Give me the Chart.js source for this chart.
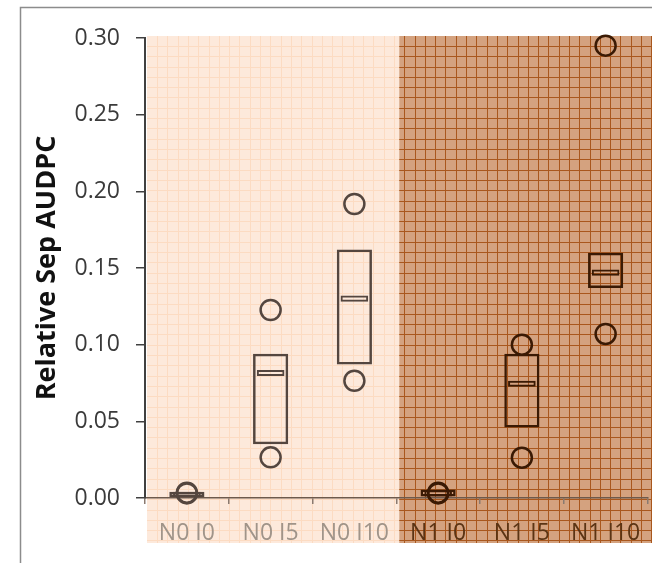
<!DOCTYPE html>
<html>
<head>
<meta charset="utf-8">
<script src="https://cdn.jsdelivr.net/npm/chart.js@4/dist/chart.umd.min.js"></script>
<style>
  html, body { margin: 0; padding: 0; background: #fff; overflow: hidden; }
  #wrap { width: 660px; height: 563px; }
</style>
</head>
<body>
<div id="wrap"><canvas id="boxChart"></canvas></div>
<script>
// Box plot values
const categories = ['N0 I0', 'N0 I5', 'N0 I10', 'N1 I0', 'N1 I5', 'N1 I10'];
const q1 = [0.000, 0.035, 0.087, 0.001, 0.046, 0.137];
const q3 = [0.004, 0.094, 0.162, 0.0055, 0.094, 0.160];
const medians = [0.002, 0.0815, 0.130, 0.003, 0.0745, 0.147];
const lowPoints = [0.003, 0.0265, 0.0765, 0.003, 0.0263, 0.107];
const highPoints = [0.0035, 0.1226, 0.1917, 0.0035, 0.100, 0.295];
const yTicks = [0, 0.05, 0.10, 0.15, 0.20, 0.25, 0.30];

// N0 groups sit on the pale panel, N1 groups on the dark one
function markColor(i) {
    return categories[i].startsWith('N0') ? '#54463f' : '#3a1a04';
}
const markColors = categories.map((c, i) => markColor(i));

// Paper-like grid panels behind the plot plus the outer frame
function drawPanel(ctx, x0, x1, y0, y1, fill, line) {
    ctx.save();
    ctx.fillStyle = fill;
    ctx.fillRect(x0, y0, x1 - x0, y1 - y0);
    ctx.strokeStyle = line;
    ctx.lineWidth = 1;
    const pitch = 10.3;
    ctx.beginPath();
    for (let x = 157; x < x1; x += pitch) {
        if (x <= x0) continue;
        ctx.moveTo(Math.round(x) + 0.5, y0);
        ctx.lineTo(Math.round(x) + 0.5, y1);
    }
    for (let y = 46; y < y1; y += pitch) {
        ctx.moveTo(x0, Math.round(y) + 0.5);
        ctx.lineTo(x1, Math.round(y) + 0.5);
    }
    ctx.stroke();
    ctx.restore();
}

const panelPlugin = {
    id: 'panels',
    beforeDraw(chart) {
        const { ctx, chartArea, scales } = chart;
        const split = scales.x.getPixelForValue(2.5) + 3;
        const top = chartArea.top - 2;
        const bottom = chart.height - 20;
        drawPanel(ctx, chartArea.left + 2, split, top, bottom, '#fde9db', '#fcdbc2');
        drawPanel(ctx, split, chart.width, top, bottom, '#d4a27f', '#a9571d');

        // outer frame
        ctx.save();
        ctx.strokeStyle = '#8c8c8c';
        ctx.lineWidth = 1.5;
        ctx.beginPath();
        ctx.moveTo(20.5, chart.height);
        ctx.lineTo(20.5, 7.5);
        ctx.lineTo(chart.width, 7.5);
        ctx.stroke();
        ctx.restore();
    }
};

const ctx = document.getElementById('boxChart').getContext('2d');
new Chart(ctx, {
    type: 'bar',
    data: {
        labels: categories,
        datasets: [
            {
                label: 'IQR',
                data: categories.map((c, i) => [q1[i], q3[i]]),
                backgroundColor: 'rgba(0,0,0,0)',
                borderColor: markColors,
                borderWidth: 2.5,
                borderSkipped: false,
                grouped: false,
                barPercentage: 0.42,
                categoryPercentage: 1,
                clip: false,
                order: 2
            },
            {
                label: 'Median',
                data: categories.map((c, i) => [medians[i] - 0.002, medians[i] + 0.002]),
                backgroundColor: 'rgba(0,0,0,0)',
                borderColor: markColors,
                borderWidth: 2,
                borderSkipped: false,
                grouped: false,
                barPercentage: 0.33,
                categoryPercentage: 1,
                clip: false,
                order: 1
            },
            {
                type: 'line',
                label: 'Low',
                data: lowPoints,
                showLine: false,
                pointRadius: 10,
                pointBorderWidth: 2.5,
                pointBackgroundColor: 'rgba(0,0,0,0)',
                pointBorderColor: markColors,
                clip: false,
                order: 0
            },
            {
                type: 'line',
                label: 'High',
                data: highPoints,
                showLine: false,
                pointRadius: 10,
                pointBorderWidth: 2.5,
                pointBackgroundColor: 'rgba(0,0,0,0)',
                pointBorderColor: markColors,
                clip: false,
                order: 0
            }
        ]
    },
    options: {
        responsive: true,
        maintainAspectRatio: false,
        animation: false,
        layout: { padding: { left: 0, right: 4, top: 38, bottom: 0 } },
        plugins: {
            legend: { display: false },
            tooltip: { enabled: false }
        },
        scales: {
            x: {
                afterFit: (scale) => { scale.height = 65; },
                border: { display: true, color: '#6e5a4c', width: 1.5 },
                grid: {
                    drawOnChartArea: false,
                    drawTicks: true,
                    tickLength: 6,
                    color: '#8a7a70',
                    lineWidth: 1.5
                },
                ticks: {
                    padding: 16,
                    font: { family: 'Open Sans', size: 23 },
                    color: (c) => c.index < 3 ? '#a09489' : '#5b3414',
                    maxRotation: 0
                }
            },
            y: {
                min: 0,
                max: 0.30,
                afterFit: (scale) => { scale.width = 145; },
                afterBuildTicks: (scale) => { scale.ticks = yTicks.map(v => ({ value: v })); },
                border: { display: true, color: '#404040', width: 2 },
                grid: {
                    drawOnChartArea: false,
                    drawTicks: true,
                    tickLength: 9,
                    color: '#404040',
                    lineWidth: 1.5
                },
                ticks: {
                    padding: 16,
                    font: { family: 'Open Sans', size: 23 },
                    color: '#3a3a3a',
                    callback: (v) => Number(v).toFixed(2)
                },
                title: {
                    display: true,
                    text: 'Relative Sep AUDPC',
                    font: { family: 'Open Sans', size: 27, weight: 'bold' },
                    color: '#111111',
                    padding: { top: 31, bottom: 0 }
                }
            }
        }
    },
    plugins: [panelPlugin]
});
</script>
</body>
</html>
